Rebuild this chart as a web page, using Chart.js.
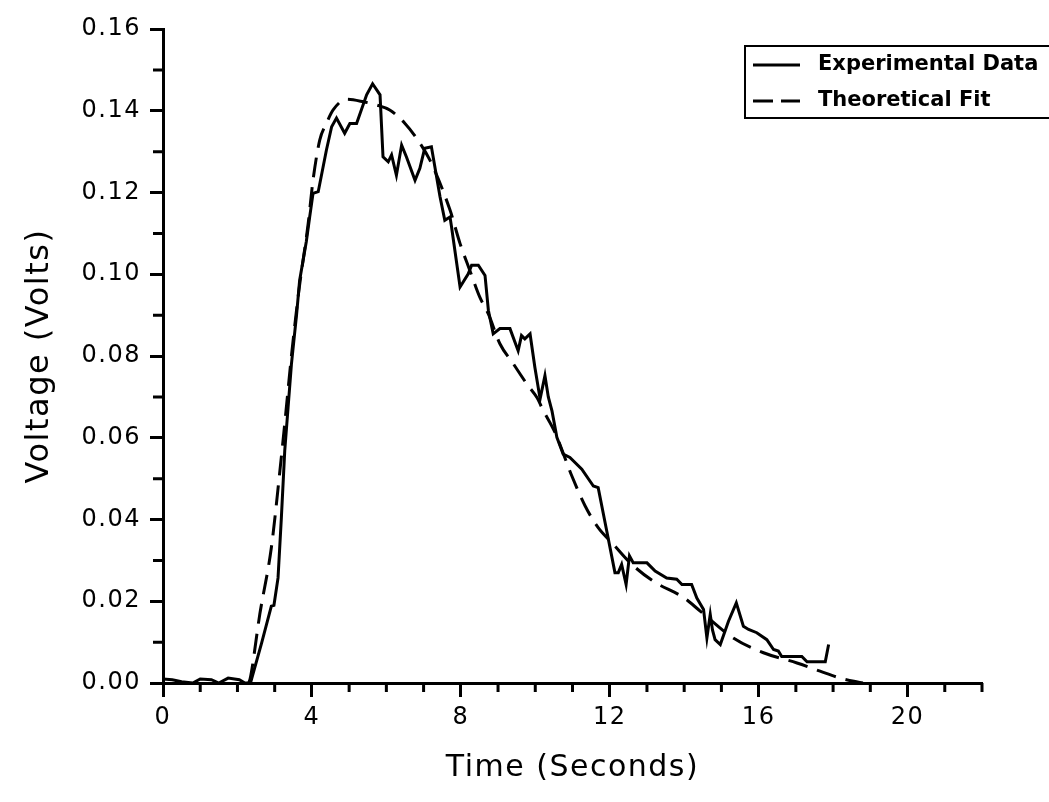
<!DOCTYPE html>
<html>
<head>
<meta charset="utf-8">
<title>Voltage vs Time</title>
<script src="https://cdn.jsdelivr.net/npm/chart.js@4.4.1/dist/chart.umd.min.js"></script>
<style>
  html, body { margin: 0; padding: 0; background: #fff; }
  #wrap { width: 1049px; height: 802px; position: relative; }
</style>
</head>
<body>
<div id="wrap"><canvas id="voltage-chart"></canvas></div>
<script>
/* ===================== DATA ===================== */

// measured trace (seconds, volts)
const expTime = [
  0.00, 0.25, 0.50, 0.80, 1.00, 1.30, 1.50, 1.75, 2.05, 2.20, 2.35,
  2.65, 2.91, 2.98, 3.09, 3.18, 3.27, 3.36, 3.45, 3.59, 3.67, 3.85,
  3.94, 4.03, 4.17, 4.39, 4.53, 4.66, 4.88, 5.02, 5.20, 5.47, 5.63,
  5.83, 5.91, 6.05, 6.14, 6.27, 6.41, 6.54, 6.77, 6.90, 7.03, 7.21,
  7.44, 7.57, 7.71, 7.75, 7.98, 8.20, 8.29, 8.47, 8.65, 8.74, 8.87,
  9.05, 9.32, 9.54, 9.63, 9.72, 9.86, 9.99, 10.13, 10.26, 10.35, 10.45,
  10.58, 10.75, 10.93, 11.25, 11.56, 11.69, 11.92, 12.14, 12.23, 12.32, 12.44,
  12.53, 12.63, 13.00, 13.22, 13.53, 13.80, 13.94, 14.20, 14.34, 14.52, 14.61,
  14.70, 14.76, 14.83, 14.97, 15.19, 15.40, 15.59, 15.73, 15.95, 16.22, 16.40,
  16.53, 16.62, 17.16, 17.30, 17.79, 17.88
];
const expVolts = [
  0.0010, 0.0008, 0.0003, 0.0000, 0.0010, 0.0008, 0.0000, 0.0012, 0.0008, 0.0000, 0.0000,
  0.0098, 0.0188, 0.0190, 0.0257, 0.0405, 0.0568, 0.0674, 0.0780, 0.0903, 0.0985, 0.1080,
  0.1140, 0.1198, 0.1202, 0.1304, 0.1361, 0.1382, 0.1345, 0.1369, 0.1369, 0.1439, 0.1466,
  0.1439, 0.1287, 0.1275, 0.1292, 0.1242, 0.1316, 0.1287, 0.1230, 0.1259, 0.1308, 0.1312,
  0.1190, 0.1132, 0.1140, 0.1116, 0.0969, 0.1001, 0.1022, 0.1022, 0.0997, 0.0912, 0.0854,
  0.0867, 0.0867, 0.0813, 0.0850, 0.0842, 0.0854, 0.0772, 0.0695, 0.0752, 0.0700, 0.0665,
  0.0601, 0.0560, 0.0552, 0.0523, 0.0482, 0.0478, 0.0372, 0.0270, 0.0270, 0.0290, 0.0241,
  0.0311, 0.0294, 0.0294, 0.0274, 0.0257, 0.0254, 0.0241, 0.0241, 0.0208, 0.0180, 0.0110,
  0.0168, 0.0130, 0.0106, 0.0094, 0.0151, 0.0196, 0.0139, 0.0131, 0.0123, 0.0106, 0.0082,
  0.0078, 0.0065, 0.0065, 0.0052, 0.0052, 0.0094
];

// model curve
const fitTime = [
  2.30, 2.34, 2.60, 2.91, 3.14, 3.27, 3.45, 3.65, 3.90, 4.03, 4.21,
  4.39, 4.57, 4.93, 5.38, 5.74, 6.09, 6.50, 6.81, 7.17, 7.71, 7.98,
  8.24, 8.51, 8.74, 9.05, 9.41, 9.77, 10.04, 10.22, 10.53, 10.98, 11.34,
  11.69, 12.10, 12.55, 13.17, 14.00, 14.43, 15.32, 16.13, 17.03, 17.65, 18.19,
  18.80
];
const fitVolts = [
  0.0000, 0.0010, 0.0168, 0.0331, 0.0519, 0.0634, 0.0800, 0.0960, 0.1124, 0.1230, 0.1328,
  0.1369, 0.1402, 0.1428, 0.1422, 0.1414, 0.1402, 0.1369, 0.1333, 0.1279, 0.1157, 0.1075,
  0.1010, 0.0944, 0.0903, 0.0830, 0.0781, 0.0732, 0.0699, 0.0666, 0.0613, 0.0507, 0.0433,
  0.0380, 0.0339, 0.0294, 0.0249, 0.0208, 0.0176, 0.0110, 0.0074, 0.0049, 0.0029, 0.0012,
  0.0000
];

// axis ticks
const xTicks = [0, 4, 8, 12, 16, 20];
const xMinor = [1, 2, 3, 5, 6, 7, 9, 10, 11, 13, 14, 15, 17, 18, 19, 21, 22];
const yTicks = [0, 0.02, 0.04, 0.06, 0.08, 0.10, 0.12, 0.14, 0.16];
const yMinor = [0.01, 0.03, 0.05, 0.07, 0.09, 0.11, 0.13, 0.15];

/* ===================== PLUGINS ===================== */

// wider glyph spacing for axis text
const textSpacing = {
  id: "textSpacing",
  beforeDraw(chart) {
    chart.ctx.letterSpacing = "1.5px";
  },
};

// short unlabelled ticks between the numbered ones
const minorTicks = {
  id: "minorTicks",
  afterDraw(chart) {
    const { ctx, scales: { x, y } } = chart;
    ctx.save();
    ctx.strokeStyle = "#000";
    ctx.lineWidth = 3;
    ctx.beginPath();
    xMinor.forEach((v) => {
      const px = x.getPixelForValue(v);
      ctx.moveTo(px, y.bottom);
      ctx.lineTo(px, y.bottom + 9);
    });
    yMinor.forEach((v) => {
      const py = y.getPixelForValue(v);
      ctx.moveTo(x.left, py);
      ctx.lineTo(x.left - 10, py);
    });
    ctx.stroke();
    ctx.restore();
  },
};

// boxed legend in the upper right corner
const boxLegend = {
  id: "boxLegend",
  afterDraw(chart) {
    const ctx = chart.ctx;
    ctx.save();
    ctx.letterSpacing = "0px";
    ctx.strokeStyle = "#000";
    ctx.fillStyle = "#000";
    ctx.lineWidth = 2;
    ctx.strokeRect(745, 46, 330, 72);
    ctx.font = "bold 21px 'DejaVu Sans'";
    ctx.textBaseline = "middle";
    chart.data.datasets.forEach((ds, i) => {
      const cy = 65 + i * 36;
      ctx.lineWidth = 3;
      ctx.setLineDash(ds.borderDash ? [20, 8] : []);
      ctx.beginPath();
      ctx.moveTo(753, cy);
      ctx.lineTo(800, cy);
      ctx.stroke();
      ctx.setLineDash([]);
      ctx.fillText(ds.label, 818, cy);
    });
    ctx.restore();
  },
};

/* ===================== CHART ===================== */

const toPoints = (xs, ys) => xs.map((x, i) => ({ x, y: ys[i] }));

Chart.defaults.color = "#000";
Chart.defaults.font.family = "'DejaVu Sans', sans-serif";

new Chart(document.getElementById("voltage-chart"), {
  type: "line",
  data: {
    datasets: [
      {
        label: "Experimental Data",
        data: toPoints(expTime, expVolts),
        borderColor: "#000",
        borderWidth: 3,
        pointRadius: 0,
        tension: 0,
      },
      {
        label: "Theoretical Fit",
        data: toPoints(fitTime, fitVolts),
        borderColor: "#000",
        borderWidth: 3,
        borderDash: [20, 10],
        pointRadius: 0,
        cubicInterpolationMode: "monotone",
      },
    ],
  },
  options: {
    responsive: true,
    maintainAspectRatio: false,
    animation: false,
    layout: { padding: { top: 29, right: 67, left: 0, bottom: 0 } },
    plugins: {
      legend: { display: false },
      tooltip: { enabled: false },
    },
    scales: {
      x: {
        type: "linear",
        min: 0,
        max: 22,
        afterBuildTicks: (scale) => {
          scale.ticks = xTicks.map((value) => ({ value }));
        },
        afterFit: (scale) => {
          scale.height = 119;
        },
        ticks: {
          font: { size: 24 },
          padding: 6,
          callback: (v) => String(v),
        },
        grid: {
          drawOnChartArea: false,
          tickLength: 14,
          tickWidth: 3,
          tickColor: "#000",
        },
        border: { color: "#000", width: 3 },
        title: {
          display: true,
          text: "Time (Seconds)",
          font: { size: 30 },
          padding: { top: 0, bottom: 16 },
        },
      },
      y: {
        type: "linear",
        min: 0,
        max: 0.16,
        afterBuildTicks: (scale) => {
          scale.ticks = yTicks.map((value) => ({ value }));
        },
        afterFit: (scale) => {
          scale.width = 163;
        },
        ticks: {
          font: { size: 24 },
          padding: 9,
          callback: (v) => v.toFixed(2),
        },
        grid: {
          drawOnChartArea: false,
          tickLength: 13,
          tickWidth: 3,
          tickColor: "#000",
        },
        border: { color: "#000", width: 3 },
        title: {
          display: true,
          text: "Voltage (Volts)",
          font: { size: 32 },
          padding: { top: 20, bottom: 0 },
        },
      },
    },
  },
  plugins: [textSpacing, minorTicks, boxLegend],
});
</script>
</body>
</html>
